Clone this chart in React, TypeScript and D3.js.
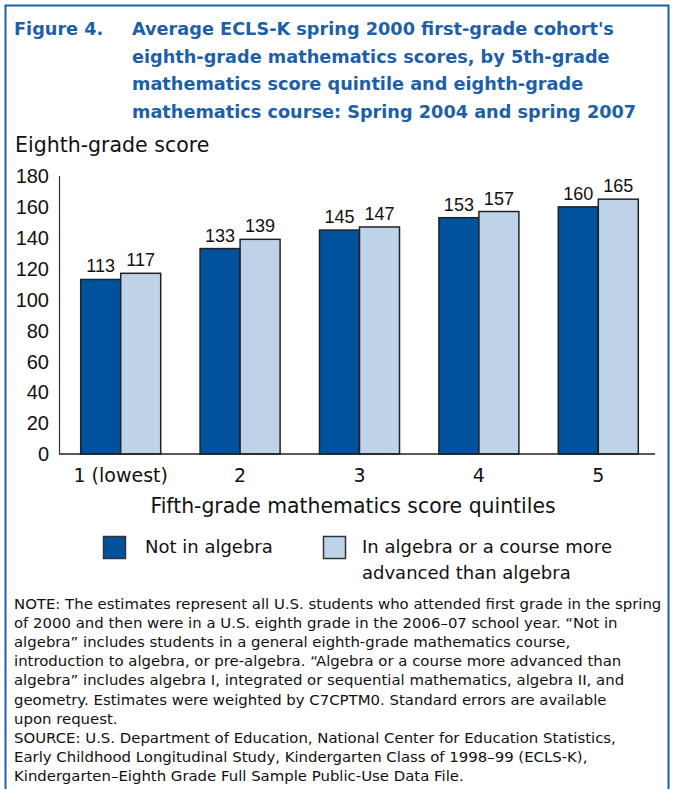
import React from "react";
import * as d3 from "d3";

const categories = ["1 (lowest)", "2", "3", "4", "5"];
const seriesNames = ["Not in algebra", "In algebra or a course more advanced than algebra"];
const notInAlgebra = [113, 133, 145, 153, 160];
const inAlgebra = [117, 139, 147, 157, 165];
const yTicks = [0, 20, 40, 60, 80, 100, 120, 140, 160, 180];

const titleLabel = "Figure 4.";
const titleLines = [
  "Average ECLS-K spring 2000 first-grade cohort's",
  "eighth-grade mathematics scores, by 5th-grade",
  "mathematics score quintile and eighth-grade",
  "mathematics course: Spring 2004 and spring 2007",
];
const noteLines = [
  "NOTE: The estimates represent all U.S. students who attended first grade in the spring",
  "of 2000 and then were in a U.S. eighth grade in the 2006–07 school year. “Not in",
  "algebra” includes students in a general eighth-grade mathematics course,",
  "introduction to algebra, or pre-algebra. “Algebra or a course more advanced than",
  "algebra” includes algebra I, integrated or sequential mathematics, algebra II, and",
  "geometry. Estimates were weighted by C7CPTM0. Standard errors are available",
  "upon request.",
  "SOURCE: U.S. Department of Education, National Center for Education Statistics,",
  "Early Childhood Longitudinal Study, Kindergarten Class of 1998–99 (ECLS-K),",
  "Kindergarten–Eighth Grade Full Sample Public-Use Data File.",
];

const COLORS = ["#00529c", "#bed3e8"];
const BLUE = "#1d5fa8";
const TEXT_FONT = "'DejaVu Sans', Verdana, sans-serif";
const NUM_FONT = "'Liberation Sans', Arial, sans-serif";

export default function App() {
  const W = 673, H = 789;
  const x0 = d3.scaleBand<string>().domain(categories).range([61, 658]).paddingInner(0.33).paddingOuter(0.165);
  const x1 = d3.scaleBand<number>().domain([0, 1]).range([0, x0.bandwidth()]);
  const y = d3.scaleLinear().domain([0, 180]).range([454, 176]);
  const series = [notInAlgebra, inAlgebra];

  return (
    <svg width={W} height={H} style={{ position: "absolute", left: 0, top: 0, background: "#fff" }} fontFamily={TEXT_FONT}>
      <rect x={5.5} y={5.5} width={663} height={H + 20} fill="none" stroke={BLUE} strokeWidth={2} />
      {/* Title */}
      <g fill={BLUE} fontWeight="bold" fontSize={17.7}>
        <text x={14} y={35}>{titleLabel}</text>
        {titleLines.map((t, i) => (
          <text key={i} x={132} y={35 + i * 27.5}>{t}</text>
        ))}
      </g>
      {/* Y axis title */}
      <text x={15} y={152} fontSize={20.5} fill="#111">Eighth-grade score</text>
      {/* Y ticks */}
      <g fontSize={20} fill="#111" textAnchor="end" fontFamily={NUM_FONT}>
        {yTicks.map((t) => (
          <text key={t} x={49} y={y(t)} dy="0.36em">{t}</text>
        ))}
      </g>
      {/* Bars */}
      {categories.map((c, i) => (
        <g key={c} transform={`translate(${x0(c)},0)`}>
          {series.map((s, k) => (
            <g key={k}>
              <rect x={x1(k)} y={y(s[i])} width={x1.bandwidth()} height={y(0) - y(s[i])} fill={COLORS[k]} stroke="#222" strokeWidth={1.5} />
              <text x={(x1(k) as number) + x1.bandwidth() / 2} y={y(s[i]) - 7} textAnchor="middle" fontSize={18} fill="#111" fontFamily={NUM_FONT}>{s[i]}</text>
            </g>
          ))}
        </g>
      ))}
      {/* Axes lines */}
      <line x1={59.5} x2={59.5} y1={y(180)} y2={y(0)} stroke="#333" strokeWidth={1.2} />
      <line x1={59} x2={655} y1={y(0)} y2={y(0)} stroke="#222" strokeWidth={1.5} />
      {/* X labels */}
      <g fontSize={19} fill="#111" textAnchor="middle">
        {categories.map((c) => (
          <text key={c} x={(x0(c) as number) + x0.bandwidth() / 2} y={482}>{c}</text>
        ))}
      </g>
      <text x={353} y={513} fontSize={20.4} fill="#111" textAnchor="middle">Fifth-grade mathematics score quintiles</text>
      {/* Legend */}
      <rect x={103.5} y={536.5} width={22} height={22} fill={COLORS[0]} stroke="#333" strokeWidth={1.5} />
      <text x={145} y={553} fontSize={18} fill="#111">{seriesNames[0]}</text>
      <rect x={323.5} y={536.5} width={22} height={22} fill={COLORS[1]} stroke="#333" strokeWidth={1.5} />
      <text x={362} y={553} fontSize={18} fill="#111">In algebra or a course more</text>
      <text x={362} y={579} fontSize={18} fill="#111">advanced than algebra</text>
      {/* Notes */}
      <g fontSize={14.9} fill="#111">
        {noteLines.map((t, i) => (
          <text key={i} x={14} y={609 + i * 19.1}>{t}</text>
        ))}
      </g>
    </svg>
  );
}
